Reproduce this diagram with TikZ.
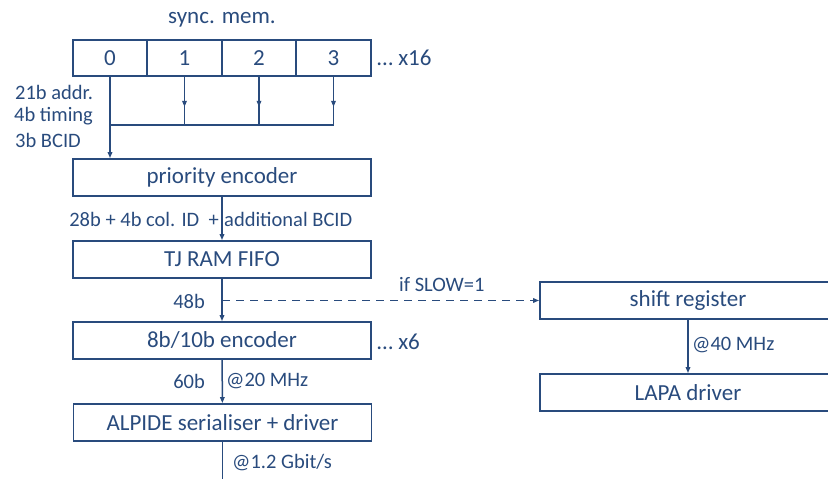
\documentclass[tikz,border=0pt]{standalone}
\usepackage{fontspec}
\setmainfont{Carlito}
\usetikzlibrary{arrows.meta}
\definecolor{darkblue}{RGB}{41,75,125}
\tikzset{
  blk/.style={draw=darkblue, line width=1.8pt, minimum width=298pt, minimum height=37pt,
    inner sep=0pt, text=darkblue, font=\fontsize{23}{23}\selectfont},
  cell/.style={blk, minimum width=74.5pt, minimum height=36pt},
  lbl/.style={text=darkblue, font=\fontsize{20.5}{20.5}\selectfont, inner sep=0pt},
  wire/.style={draw=darkblue, line width=1.5pt},
  flow/.style={wire, -{Triangle[length=6pt,width=4.5pt]}},
}
\begin{document}
\begin{tikzpicture}[x=1pt,y=-1pt]
\useasboundingbox (0,0) rectangle (828,479);
% sync. memory row
\node[lbl, font=\fontsize{23}{23}\selectfont] (title) at (222,20) {sync. mem.};
\foreach \i in {0,...,3}
  \node[cell] (m\i) at (110+74.5*\i,58) {\i};
\node[lbl, anchor=west, font=\fontsize{23}{23}\selectfont] (x16) at (377,58) {… x16};
\node[lbl, anchor=west] (addr) at (15,92) {21b addr.};
\node[lbl, anchor=west] (timing) at (14,116) {4b timing};
\node[lbl, anchor=west] (bcid) at (15,140) {3b BCID};
% main chain
\node[blk] (prio) at (222,177.5) {priority encoder};
\node[blk] (fifo) at (222,259.5) {TJ RAM FIFO};
\node[blk] (enc) at (222,340.5) {8b/10b encoder};
\node[blk] (ser) at (222.5,422.5) {ALPIDE serialiser + driver};
\node[lbl, anchor=west, font=\fontsize{23}{23}\selectfont] (x6) at (377,342) {… x6};
% slow path
\node[blk, minimum width=296pt] (shreg) at (688,300.5) {shift register};
\node[blk, minimum width=296pt] (lapa) at (688,392.5) {LAPA driver};
% memory outputs
\coordinate (bus) at (110,125);
\draw[flow] (m0.south) -- (prio.north -| m0.south);
\foreach \i in {1,2,3} {
  \draw[flow] (m\i.south) -- ++(0,30);
  \draw[wire] (m\i.south) -- (m\i.south |- bus);
}
\draw[wire] (m3.south |- bus) -- (bus);
% links
\draw[flow] (prio) -- (fifo);
\node[lbl, anchor=east] (bits) at (219,219) {28b + 4b col. ID\ \ +};
\node[lbl, anchor=west] (extra) at (224,219) {additional BCID};
\draw[flow] (fifo) -- (enc);
\node[lbl, anchor=east] (w48) at (205,301) {48b};
\draw[flow, dash pattern=on 8pt off 6pt] (fifo.south |- shreg.west) -- (shreg.west);
\node[lbl, anchor=west] (slow) at (399,285) {if SLOW=1};
\draw[flow] (enc) -- (ser);
\node[lbl, anchor=east] (w60) at (205,381) {60b};
\node[lbl, anchor=west] (f20) at (226,381) {@20 MHz};
\coordinate (out) at ([yshift=-40pt]ser.south);
\draw[wire] (ser.south) -- (out);
\node[lbl, anchor=west] (rate) at (232,463) {@1.2 Gbit/s};
\draw[flow] (shreg) -- (lapa);
\node[lbl, anchor=west] (f40) at (692,345) {@40 MHz};
\end{tikzpicture}
\end{document}
